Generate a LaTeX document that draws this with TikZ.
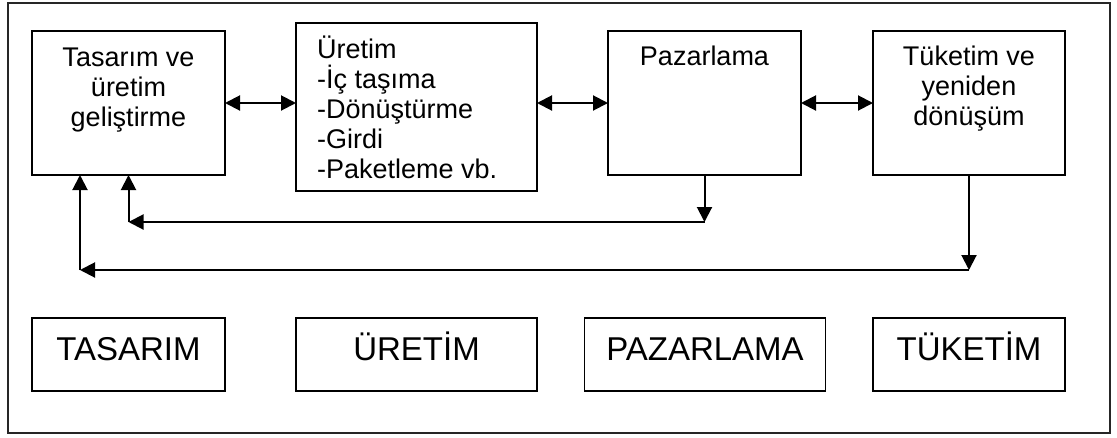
\documentclass[tikz,border=0pt]{standalone}
\usepackage{fontspec}
\setmainfont{Liberation Sans}
\usetikzlibrary{arrows.meta}
\begin{document}
\begin{tikzpicture}[x=1pt,y=-1pt,
  box/.style={draw, line width=1.5pt, inner sep=0pt, outer sep=0pt},
  arr/.style={line width=2pt, -{Triangle[length=15pt,width=15pt]}},
  darr/.style={line width=2pt, {Triangle[length=15pt,width=15pt]}-{Triangle[length=15pt,width=15pt]}},
  txt/.style={inner sep=0pt, font=\fontsize{27}{30}\selectfont},
  big/.style={inner sep=0pt, font=\fontsize{33}{36}\selectfont, anchor=base}
]
\useasboundingbox (0,0) rectangle (1117,437);
\draw[line width=1.5pt, black!85] (8,3) rectangle (1110,433);

% top boxes
\node[box, minimum width=193pt, minimum height=144pt] (ts) at (128.5,103) {};
\node[box, minimum width=241pt, minimum height=168pt] (ur) at (416.5,107) {};
\node[box, minimum width=193pt, minimum height=144pt] (pz) at (704.5,103) {};
\node[box, minimum width=192pt, minimum height=144pt] (tk) at (969,103) {};

\node[txt, align=center, anchor=north] (tst) at (128.5,36) {\rule{0pt}{30pt}Tasarım ve\\üretim\\geliştirme};
\node[txt, align=left, anchor=north west] (urt) at (317,28) {\rule{0pt}{30pt}Üretim\\-İç taşıma\\-Dönüştürme\\-Girdi\\-Paketleme vb.};
\node[txt, align=center, anchor=north] (pzt) at (704.5,35) {\rule{0pt}{30pt}Pazarlama};
\node[txt, align=center, anchor=north] (tkt) at (969,35) {\rule{0pt}{30pt}Tüketim ve\\yeniden\\dönüşüm};

% double arrows
\draw[darr] (ts.east) -- (ts.east -| ur.west);
\draw[darr] (ur.east |- pz.west) -- (pz.west);
\draw[darr] (pz.east) -- (tk.west);

% feedback paths
\coordinate (c1) at (pz.south |- 0,222);
\coordinate (c2) at (ts.south |- 0,222);
\draw[arr] (pz.south) -- (c1);
\draw[arr] (c1) -- (c2);
\draw[arr] (c2) -- (ts.south);

\coordinate (d1) at (tk.south |- 0,270);
\coordinate (d2) at (80,270);
\coordinate (d3) at (80,175);
\draw[arr] (tk.south) -- (d1);
\draw[arr] (d1) -- (d2);
\draw[arr] (d2) -- (d3);

% bottom boxes
\node[box, minimum width=193pt, minimum height=73pt] (b1) at (128.5,354.5) {};
\node[box, minimum width=241pt, minimum height=73pt] (b2) at (416.5,354.5) {};
\node[box, minimum width=241pt, minimum height=73pt] (b3) at (705,354.5) {};
\node[box, minimum width=192pt, minimum height=73pt] (b4) at (969,354.5) {};
\node[big] (b1t) at (128.5,360) {TASARIM};
\node[big] (b2t) at (416.5,360) {ÜRETİM};
\node[big] (b3t) at (705,360) {PAZARLAMA};
\node[big] (b4t) at (969,360) {TÜKETİM};
\end{tikzpicture}
\end{document}
